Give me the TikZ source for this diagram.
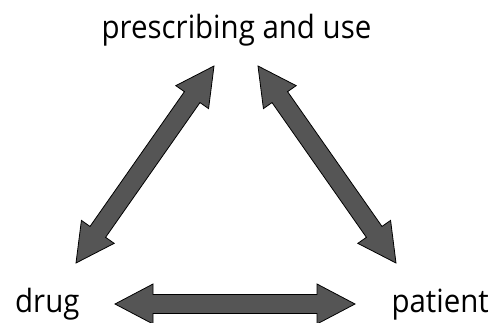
\documentclass[tikz,border=0pt]{standalone}
\usepackage{fontspec}
\setmainfont[FakeStretch=0.92]{Open Sans}
\usetikzlibrary{calc}

\definecolor{arrowfill}{HTML}{555555}

\tikzset{
  label/.style={inner sep=0pt, font=\fontsize{32}{36}\selectfont},
  % block double arrow drawn as an outlined polygon between two tips
  fatarrow/.style={
    draw=black, line width=0.8pt, fill=arrowfill, line join=miter,
    to path={
      -- ($(\tikztostart)!38pt!(\tikztotarget)!20pt!90:(\tikztotarget)$)
      -- ($(\tikztostart)!38pt!(\tikztotarget)!9.5pt!90:(\tikztotarget)$)
      -- ($(\tikztotarget)!38pt!(\tikztostart)!9.5pt!-90:(\tikztostart)$)
      -- ($(\tikztotarget)!38pt!(\tikztostart)!20pt!-90:(\tikztostart)$)
      -- (\tikztotarget)
      -- ($(\tikztotarget)!38pt!(\tikztostart)!20pt!90:(\tikztostart)$)
      -- ($(\tikztotarget)!38pt!(\tikztostart)!9.5pt!90:(\tikztostart)$)
      -- ($(\tikztostart)!38pt!(\tikztotarget)!9.5pt!-90:(\tikztotarget)$)
      -- ($(\tikztostart)!38pt!(\tikztotarget)!20pt!-90:(\tikztotarget)$)
      -- cycle
    }
  }
}

\begin{document}
\begin{tikzpicture}[x=1pt, y=-1pt]
  \useasboundingbox (0,0) rectangle (496,322);
  \clip (0,0) rectangle (496,322);

  % labels
  \node[label, anchor=base] (use) at (236.5,38) {prescribing and use};
  \node[label, anchor=base west] (drug) at (15,312) {drug};
  \node[label, anchor=base east] (patient) at (489,312) {patient};

  % arrow tips
  \coordinate (useL) at (214,66);
  \coordinate (useR) at (258,66);
  \coordinate (drugT) at (76,263);
  \coordinate (patT) at (396,263);
  \coordinate (drugR) at (115,304);
  \coordinate (patL) at (355,304);

  % connectors
  \draw[fatarrow] (useL) to (drugT);
  \draw[fatarrow] (useR) to (patT);
  \draw[fatarrow] (drugR) to (patL);
\end{tikzpicture}
\end{document}
